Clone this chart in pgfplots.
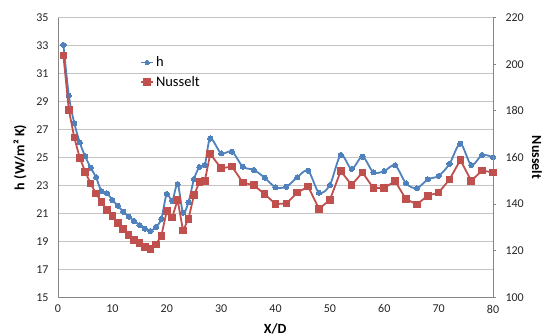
\documentclass[border=0pt]{standalone}
\usepackage{pgfplots}
\pgfplotsset{compat=1.18}
\usepackage{fontspec}
\setmainfont{Carlito}

\definecolor{hblue}{HTML}{4F81BD}
\definecolor{nured}{HTML}{C0504D}
\definecolor{gridgray}{HTML}{C4C4C4}
\definecolor{axgray}{HTML}{868686}

% heat transfer coefficient along the plate
\pgfplotstableread{
x h
1 33.05
2 29.42
3 27.45
4 26.08
5 25.08
6 24.27
7 23.58
8 22.58
9 22.44
10 21.96
11 21.55
12 21.12
13 20.77
14 20.46
15 20.17
16 19.91
17 19.74
18 20.03
19 20.60
20 22.39
21 21.89
22 23.10
23 21.05
24 21.80
25 23.44
26 24.32
27 24.46
28 26.36
30 25.30
32 25.42
34 24.34
36 24.11
38 23.56
40 22.87
42 22.91
44 23.58
46 24.06
48 22.48
50 23.03
52 25.18
54 24.18
56 25.06
58 23.94
60 24.03
62 24.44
64 23.15
66 22.80
68 23.44
70 23.68
72 24.54
74 25.99
76 24.46
78 25.18
80 25.01
}\hdata

% Nusselt number along the plate
\pgfplotstableread{
x Nu
1 203.7
2 180.4
3 168.5
4 159.9
5 153.9
6 148.8
7 144.5
8 141.0
9 137.4
10 134.8
11 131.8
12 129.3
13 126.8
14 124.6
15 123.2
16 121.5
17 120.7
18 122.7
19 126.3
20 137.0
21 134.3
22 141.8
23 128.6
24 133.7
25 143.8
26 149.4
27 150.0
28 161.5
30 155.4
32 156.1
34 149.2
36 148.1
38 144.3
40 140.0
42 140.3
44 144.9
46 147.5
48 138.0
50 141.8
52 154.2
54 148.2
56 153.6
58 146.8
60 147.0
62 149.8
64 142.1
66 139.9
68 143.6
70 144.9
72 150.6
74 158.9
76 150.0
78 154.4
80 153.6
}\nudata

\begin{document}
\begin{tikzpicture}[x=1pt,y=1pt]
\path[use as bounding box] (-58,-38.7) rectangle (486,297.3);
\pgfplotsset{
  every axis/.append style={
    scale only axis, width=435pt, height=279.6pt,
    xmin=0, xmax=80,
    tick label style={font=\fontsize{12}{14}\selectfont, text=black!85},
    label style={font=\bfseries\fontsize{14}{16}\selectfont},
    /pgf/number format/assume math mode=true,
    axis line style={-, axgray, line width=0.8pt},
  },
}
\begin{axis}[
  axis x line*=bottom, axis y line*=left,
  ymin=15, ymax=35, ytick={15,17,...,35},
  xtick={0,10,...,80},
  major tick length=0pt,
  ymajorgrids, major grid style={gridgray, line width=0.8pt},
  xticklabel style={yshift=-4pt},
  yticklabel style={xshift=-6pt},
  xlabel={X/D},
  xlabel style={at={(axis description cs:0.499,-0.112)}, anchor=center},
  ylabel={h (W/m² K)},
  ylabel style={at={(axis description cs:-0.0874,0.5)}, anchor=center, rotate=0},
]
\addplot[hblue, line width=1.8pt, smooth, tension=0.5,
  mark=*, mark size=2.6pt, mark options={fill=hblue, draw=hblue, line width=0pt}]
  table[x=x, y=h] {\hdata};
\end{axis}
\begin{axis}[
  axis y line*=right, axis x line=none,
  ymin=100, ymax=220, ytick={100,120,...,220},
  tick align=outside, major tick length=3pt,
  ytick style={axgray, line width=0.8pt},
  yticklabel style={xshift=6pt},
  ylabel={Nusselt},
  ylabel style={at={(axis description cs:1.101,0.5)}, anchor=center, rotate=180},
  legend style={at={(axis description cs:0.1885,0.868)}, anchor=north west,
    draw=none, fill=none, font=\fontsize{14.5}{16}\selectfont,
    row sep=4pt, inner sep=0pt, cells={anchor=west}},
  legend cell align=left,
  legend image code/.code={
    \draw[mark repeat=2, mark phase=2, #1]
      plot coordinates {(0pt,0pt) (6pt,0pt) (12pt,0pt)};},
]
\addlegendimage{hblue, line width=1.8pt, mark=*, mark size=2.2pt,
  mark options={fill=hblue, draw=hblue, line width=0pt}}
\addlegendentry{h}
\addplot[nured, line width=1.8pt,
  mark=square*, mark size=3.3pt, mark options={fill=nured, draw=nured, line width=0pt}]
  table[x=x, y=Nu] {\nudata};
\addlegendentry{Nusselt}
\end{axis}
\end{tikzpicture}
\end{document}
